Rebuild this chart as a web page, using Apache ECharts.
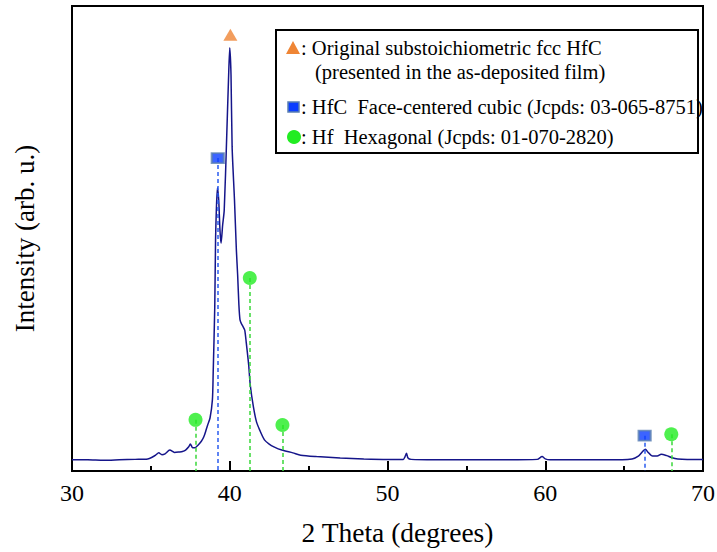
<!DOCTYPE html>
<html>
<head>
<meta charset="utf-8">
<title>XRD pattern</title>
<script src="https://cdn.jsdelivr.net/npm/echarts@6/dist/echarts.min.js"></script>
<style>
  html, body { margin: 0; padding: 0; background: #ffffff; }
  #chart { width: 717px; height: 552px; }
</style>
</head>
<body>
<div id="chart"></div>
<script>
// Diffraction scan: 2θ (degrees) and intensity (arbitrary units)
const theta = [
  30.0, 31.0, 32.0, 33.0, 34.0, 34.8, 35.1, 35.3, 35.5, 35.7, 35.9, 36.2, 36.5, 36.8, 37.0,
  37.2, 37.4, 37.5, 37.65, 37.8, 38.0, 38.2, 38.35, 38.5, 38.6, 38.75, 38.9, 38.95, 39.05,
  39.1, 39.15, 39.22, 39.3, 39.38, 39.45, 39.55, 39.65, 39.8, 39.92, 40.0, 40.08, 40.15,
  40.3, 40.42, 40.5, 40.58, 40.65, 40.75, 40.85, 40.95, 41.05, 41.2, 41.3, 41.5, 41.7,
  41.9, 42.2, 42.5, 42.8, 43.3, 44.0, 44.5, 45.5, 47.0, 48.5, 50.0, 51.0, 51.1, 51.2,
  51.3, 51.5, 53.0, 55.0, 57.0, 59.5, 59.8, 60.0, 60.3, 62.0, 64.0, 65.5, 65.9, 66.2,
  66.35, 66.5, 66.8, 67.1, 67.35, 67.7, 68.0, 68.4, 69.0, 70.0
];
const intensity = [
  24, 24, 23, 24, 25, 26, 30, 34, 39, 35, 37, 45, 40, 41, 42,
  45, 52, 58, 50, 50, 56, 64, 73, 88, 99, 114, 153, 211, 353,
  497, 561, 609, 583, 518, 490, 529, 561, 712, 841, 910, 852, 697,
  583, 475, 422, 357, 325, 316, 310, 303, 275, 228, 185, 138, 105,
  88, 67, 58, 52, 45, 39, 34, 31, 28, 26, 25, 25, 30, 38,
  28, 25, 24, 24, 24, 25, 31, 26, 24, 24, 24, 26, 32, 43,
  47, 41, 32, 32, 36, 33, 29, 26, 25, 25
];

// Phase reference markers
const fccOrigTheta = [40.04];
const fccOrigLevel = [938];
const hfcTheta = [39.24, 66.3];
const hfcLevel = [673, 76];
const hfTheta = [37.83, 41.27, 43.34, 67.99];
const hfLevel = [110, 415, 99, 79];

// Axis range and tick spacing
const xMin = 30, xMax = 70, xStep = 10;
const yMin = 0, yMax = 1000;

// Legend entries
const legendLines = [
  ': Original substoichiometric fcc HfC',
  '(presented in the as-deposited film)',
  ': HfC \u00a0Face-centered cubic (Jcpds: 03-065-8751)',
  ': Hf \u00a0Hexagonal (Jcpds: 01-070-2820)'
];

const serif = 'Liberation Serif';
const navy = '#15158a';
const orange = '#ef8535';
const blue = '#0b3dff';
const blueEdge = '#5a7fb2';
const green = '#22ec22';

const zip = (xs, ys) => xs.map((x, i) => [x, ys[i]]);
const dropLines = (xs, ys) => xs.map((x, i) => [{ coord: [x, ys[i]] }, { coord: [x, 0] }]);

const chart = echarts.init(document.getElementById('chart'), null, { renderer: 'svg' });

const legendText = (x, y, text) => ({
  type: 'text', x: x, y: y, z: 11,
  style: {
    text: text, fontFamily: serif, fontSize: 20.5, fill: '#000',
    verticalAlign: 'middle', align: 'left'
  }
});

chart.setOption({
  backgroundColor: '#ffffff',
  animation: false,
  textStyle: { fontFamily: serif },
  grid: {
    left: 72, right: 14, top: 6, bottom: 81,
    containLabel: false,
    outerBoundsMode: 'none',
    show: true,
    borderColor: '#000000',
    borderWidth: 2,
    backgroundColor: 'transparent'
  },
  xAxis: {
    type: 'value',
    min: xMin, max: xMax, interval: xStep,
    name: '2 Theta (degrees)',
    nameLocation: 'middle',
    nameGap: 47,
    nameTextStyle: { fontFamily: serif, fontSize: 27.5, color: '#000', padding: [0, 0, 0, 20] },
    axisLine: { show: true, lineStyle: { color: '#000', width: 2 } },
    axisTick: { show: true, inside: true, length: 10, lineStyle: { color: '#000', width: 2 } },
    minorTick: { show: true, splitNumber: 2, length: 5, lineStyle: { color: '#000', width: 2 } },
    axisLabel: { fontFamily: serif, fontSize: 24, color: '#000', margin: 10 },
    splitLine: { show: false }
  },
  yAxis: {
    type: 'value',
    min: yMin, max: yMax,
    name: 'Intensity (arb. u.)',
    nameLocation: 'middle',
    nameGap: 34,
    nameTextStyle: { fontFamily: serif, fontSize: 27, color: '#000' },
    axisLine: { show: true, lineStyle: { color: '#000', width: 2 } },
    axisTick: { show: false },
    axisLabel: { show: false },
    splitLine: { show: false }
  },
  series: [
    {
      name: 'XRD',
      type: 'line',
      data: zip(theta, intensity),
      showSymbol: false,
      smooth: 0.25,
      lineStyle: { color: navy, width: 1.5 },
      z: 3
    },
    {
      name: 'Original fcc HfC',
      type: 'scatter',
      data: zip(fccOrigTheta, fccOrigLevel),
      symbol: 'triangle',
      symbolSize: [14, 12],
      itemStyle: { color: orange },
      z: 5
    },
    {
      name: 'HfC fcc',
      type: 'scatter',
      data: zip(hfcTheta, hfcLevel),
      symbol: 'rect',
      symbolSize: [12, 10],
      itemStyle: { color: blue, borderColor: blueEdge, borderWidth: 2 },
      markLine: {
        silent: true,
        symbol: 'none',
        label: { show: false },
        lineStyle: { color: '#2a5cf0', type: [4, 3], width: 1.5 },
        data: dropLines(hfcTheta, hfcLevel)
      },
      z: 5
    },
    {
      name: 'Hf hexagonal',
      type: 'scatter',
      data: zip(hfTheta, hfLevel),
      symbol: 'circle',
      symbolSize: 14,
      itemStyle: { color: green },
      markLine: {
        silent: true,
        symbol: 'none',
        label: { show: false },
        lineStyle: { color: '#3ad83a', type: [4, 3], width: 1.5 },
        data: dropLines(hfTheta, hfLevel)
      },
      z: 5
    }
  ],
  graphic: [
    {
      type: 'rect',
      shape: { x: 276, y: 30, width: 422, height: 123 },
      style: { fill: '#ffffff', stroke: '#000', lineWidth: 2 },
      z: 10
    },
    {
      type: 'polygon',
      shape: { points: [[286, 54], [300, 54], [293, 41]] },
      style: { fill: orange },
      z: 11
    },
    {
      type: 'rect',
      shape: { x: 288, y: 102, width: 11, height: 10 },
      style: { fill: blue, stroke: blueEdge, lineWidth: 1.5 },
      z: 11
    },
    {
      type: 'circle',
      shape: { cx: 294, cy: 137, r: 7 },
      style: { fill: green },
      z: 11
    },
    legendText(301, 48, legendLines[0]),
    legendText(315, 72, legendLines[1]),
    legendText(301, 107, legendLines[2]),
    legendText(301, 137, legendLines[3])
  ]
});
</script>
</body>
</html>
